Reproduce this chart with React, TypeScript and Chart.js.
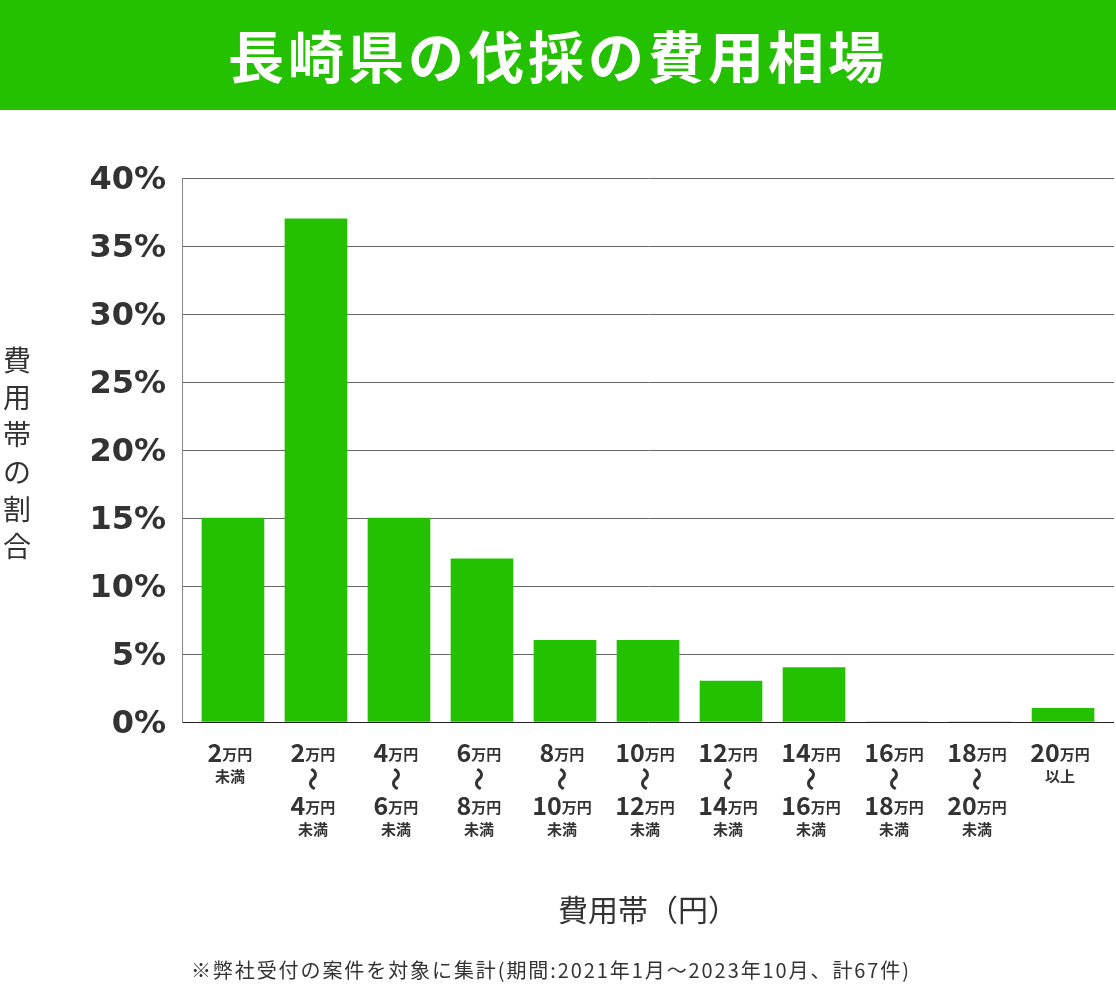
import React, { useEffect, useRef } from 'react';
import { Chart, registerables } from 'chart.js';

Chart.register(...registerables);

const TITLE = '長崎県の伐採の費用相場';
const Y_TITLE = '費用帯の割合';
const X_TITLE = '費用帯（円）';
const NOTE = '※弊社受付の案件を対象に集計(期間:2021年1月～2023年10月、計67件)';

// price bands in 万円; null = open end
const RANGE_FROM: (string | null)[] = [null, '2', '4', '6', '8', '10', '12', '14', '16', '18', '20'];
const RANGE_TO: (string | null)[] = ['2', '4', '6', '8', '10', '12', '14', '16', '18', '20', null];
const UNIT = '万円';
const BELOW = '未満';
const ABOVE = '以上';
const WAVE = '〜';

// share of cases (%)
const SHARE = [15, 37, 15, 12, 6, 6, 3, 4, 0, 0, 1];

const Y_MIN = 0;
const Y_MAX = 40;
const Y_STEP = 5;

const GREEN = '#24c100';
const TEXT = '#333333';
const JP = '"Noto Sans CJK JP", "Noto Sans", sans-serif';

export default function App() {
  const ref = useRef<HTMLCanvasElement | null>(null);

  useEffect(() => {
    document.body.style.margin = '0';
    const canvas = ref.current;
    if (!canvas) return;

    const decor = {
      id: 'decor',
      beforeDraw(chart: any) {
        const ctx = chart.ctx;
        ctx.save();
        ctx.fillStyle = '#ffffff';
        ctx.fillRect(0, 0, chart.width, chart.height);
        ctx.fillStyle = GREEN;
        ctx.fillRect(0, 0, chart.width, 110);
        ctx.fillStyle = '#ffffff';
        ctx.font = `bold 56px ${JP}`;
        ctx.textAlign = 'center';
        ctx.textBaseline = 'middle';
        (ctx as any).letterSpacing = '4px';
        ctx.fillText(TITLE, 558, 57);
        (ctx as any).letterSpacing = '0px';
        ctx.restore();
      },
      afterDraw(chart: any) {
        const ctx = chart.ctx;
        const xs = chart.scales.x;
        const area = chart.chartArea;
        ctx.save();
        ctx.fillStyle = TEXT;
        ctx.textBaseline = 'middle';
        ctx.textAlign = 'center';

        // y title, stacked vertically
        ctx.font = `28px ${JP}`;
        Y_TITLE.split('').forEach((ch, i) => {
          ctx.fillText(ch, 17, 360 + i * 37.3);
        });

        const numFont = `bold 25px ${JP}`;
        const unitFont = `bold 15px ${JP}`;
        const drawAmount = (num: string, cx: number, cy: number) => {
          ctx.font = numFont;
          const wn = ctx.measureText(num).width;
          ctx.font = unitFont;
          const wu = ctx.measureText(UNIT).width;
          const start = cx - (wn + wu) / 2;
          ctx.textAlign = 'left';
          ctx.font = numFont;
          ctx.fillText(num, start, cy);
          ctx.font = unitFont;
          ctx.fillText(UNIT, start + wn, cy + 2);
          ctx.textAlign = 'center';
        };

        SHARE.forEach((_, i) => {
          const cx = xs.getPixelForValue(i) - 3;
          const from = RANGE_FROM[i];
          const to = RANGE_TO[i];
          if (from === null && to !== null) {
            drawAmount(to, cx, 752);
            ctx.font = unitFont;
            ctx.fillText(BELOW, cx, 776);
          } else if (to === null && from !== null) {
            drawAmount(from, cx, 752);
            ctx.font = unitFont;
            ctx.fillText(ABOVE, cx, 776);
          } else if (from !== null && to !== null) {
            drawAmount(from, cx, 752);
            ctx.save();
            ctx.translate(cx, 779);
            ctx.rotate(Math.PI / 2);
            ctx.font = `bold 24px ${JP}`;
            ctx.fillText(WAVE, 0, 0);
            ctx.restore();
            drawAmount(to, cx, 805);
            ctx.font = unitFont;
            ctx.fillText(BELOW, cx, 829);
          }
        });

        ctx.font = `30px ${JP}`;
        ctx.fillText(X_TITLE, (area.left + area.right) / 2, 910);

        // footnote, spread to the reference width
        ctx.font = `20px ${JP}`;
        const w = ctx.measureText(NOTE).width;
        const n = NOTE.length;
        const sp = Math.max(0, (720 - w) / n);
        (ctx as any).letterSpacing = `${sp}px`;
        ctx.fillText(NOTE, 550 + sp / 2, 970);
        (ctx as any).letterSpacing = '0px';
        ctx.restore();
      },
    };

    const chart = new Chart(canvas, {
      type: 'bar',
      data: {
        datasets: [
          {
            data: SHARE.map((v, i) => ({ x: i, y: v })),
            backgroundColor: GREEN,
            borderWidth: 0,
            barThickness: 62,
          },
        ],
      },
      options: {
        responsive: false,
        animation: false,
        devicePixelRatio: 1,
        layout: { padding: { top: 178, bottom: 267, left: 0, right: 2 } },
        plugins: { legend: { display: false }, tooltip: { enabled: false }, title: { display: false } },
        scales: {
          x: {
            type: 'linear',
            min: -0.614,
            max: 10.614,
            offset: false,
            display: false,
            grid: { offset: false },
          },
          y: {
            min: Y_MIN,
            max: Y_MAX,
            afterFit: (scale: any) => {
              scale.width = 182;
            },
            ticks: {
              stepSize: Y_STEP,
              padding: 16,
              labelOffset: 3,
              color: TEXT,
              font: { family: '"DejaVu Sans", sans-serif', size: 32, weight: 'bold' },
              callback: (v: any) => `${v}%`,
            },
            grid: {
              drawTicks: false,
              color: (c: any) => (c.tick && c.tick.value === 0 ? '#222222' : '#666666'),
              lineWidth: 1,
            },
            border: { color: '#888888', width: 1 },
          },
        },
      },
      plugins: [decor],
    } as any);

    return () => chart.destroy();
  }, []);

  return <canvas ref={ref} width={1116} height={989} style={{ display: 'block' }} />;
}
